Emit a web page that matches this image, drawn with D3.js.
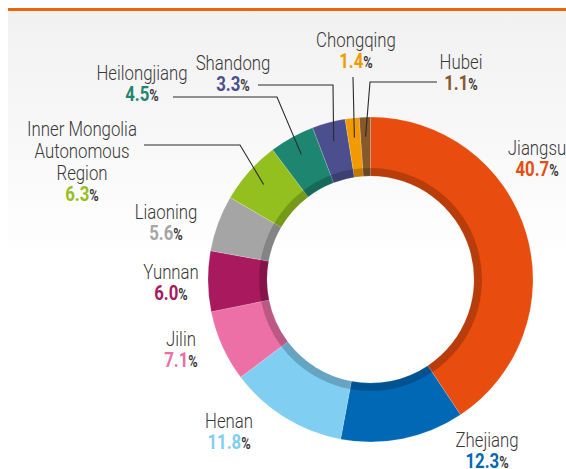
<!DOCTYPE html>
<html>
<head>
<meta charset="utf-8">
<script src="https://cdn.jsdelivr.net/npm/d3@7"></script>
<style>
  html, body { margin: 0; padding: 0; background: #ffffff; }
  svg { display: block; }
  text { font-family: "Roboto", "Liberation Sans", sans-serif; }
</style>
</head>
<body>
<svg id="chart" width="566" height="469"></svg>
<script>
// ---- data ----
const regions = ["Jiangsu", "Zhejiang", "Henan", "Jilin", "Yunnan", "Liaoning",
  "Inner Mongolia Autonomous Region", "Heilongjiang", "Shandong", "Chongqing", "Hubei"];
const shares = [40.7, 12.3, 11.8, 7.1, 6.0, 5.6, 6.3, 4.5, 3.3, 1.4, 1.1];
const labelLines = [["Jiangsu"], ["Zhejiang"], ["Henan"], ["Jilin"], ["Yunnan"], ["Liaoning"],
  ["Inner Mongolia", "Autonomous", "Region"], ["Heilongjiang"], ["Shandong"], ["Chongqing"], ["Hubei"]];
const palette = ["#e84c0e", "#0068b4", "#80cff3", "#ec6fa6", "#a8195e", "#a5a5a5",
  "#93c01f", "#1d8570", "#4b4f8e", "#f39a00", "#87582a"];

// ---- layout (label anchor positions: x centre, baseline of first line) ----
const layout = {
  "Jiangsu": {x: 537, y: 155},
  "Zhejiang": {x: 487, y: 447},
  "Henan": {x: 229, y: 428},
  "Jilin": {x: 181, y: 346},
  "Yunnan": {x: 171, y: 279},
  "Liaoning": {x: 166, y: 219},
  "Inner Mongolia Autonomous Region": {x: 82, y: 136},
  "Heilongjiang": {x: 142, y: 80},
  "Shandong": {x: 233, y: 70},
  "Chongqing": {x: 356, y: 47},
  "Hubei": {x: 461, y: 69}
};
// leader lines: start point and elbow, end on the slice
const leaders = {
  "Inner Mongolia Autonomous Region": [[144, 145], [240, 145]],
  "Heilongjiang": [[173, 97], [277, 97]],
  "Shandong": [[258, 85], [333, 85]],
  "Chongqing": [[353, 77]],
  "Hubei": [[437, 82], [370, 82]]
};

const W = 566, H = 469;
const cx = 370.5, cy = 279.5;
const rOuter = 162.5, rInner = 103.5, rBand = 111.5;
const squeeze = 0.8;

const svg = d3.select("#chart");

// background
const defs = svg.append("defs");
const grad = defs.append("linearGradient").attr("id", "bg").attr("x1", 0).attr("y1", 0).attr("x2", 0).attr("y2", 1);
grad.append("stop").attr("offset", "0%").attr("stop-color", "#f1f1f1");
grad.append("stop").attr("offset", "55%").attr("stop-color", "#ffffff");
grad.append("stop").attr("offset", "100%").attr("stop-color", "#ffffff");
svg.append("rect").attr("x", 8).attr("y", 11).attr("width", W - 8).attr("height", H - 11).attr("fill", "url(#bg)");
svg.append("rect").attr("x", 8).attr("y", 8).attr("width", W - 8).attr("height", 3).attr("fill", "#ec6608");

const data = regions.map((r, i) => ({region: r, value: shares[i], color: palette[i], lines: labelLines[i]}));

const pie = d3.pie().value(d => d.value).sort(null).startAngle(0).endAngle(2 * Math.PI);
const arcs = pie(data);

const arcMain = d3.arc().innerRadius(rInner).outerRadius(rOuter);
const arcBand = d3.arc().innerRadius(rInner).outerRadius(rBand);

const g = svg.append("g").attr("transform", `translate(${cx},${cy})`);
g.selectAll("path.slice").data(arcs).join("path")
  .attr("class", "slice")
  .attr("d", arcMain)
  .attr("fill", d => d.data.color)
  .attr("stroke", "rgba(255,255,255,0.35)")
  .attr("stroke-width", 0.5);
g.selectAll("path.band").data(arcs).join("path")
  .attr("class", "band")
  .attr("d", arcBand)
  .attr("fill", "#000")
  .attr("fill-opacity", 0.2);

// leader lines
const leaderR = 143;
arcs.forEach(a => {
  const pts = leaders[a.data.region];
  if (!pts) return;
  const mid = (a.startAngle + a.endAngle) / 2;
  const end = [cx + leaderR * Math.sin(mid), cy - leaderR * Math.cos(mid)];
  const all = pts.concat([end]);
  svg.append("path")
    .attr("d", d3.line()(all))
    .attr("fill", "none")
    .attr("stroke", "#2b2b2b")
    .attr("stroke-width", 1.1);
});

// labels
const lineH = 22;
arcs.forEach(a => {
  const d = a.data;
  const p = layout[d.region];
  d.lines.forEach((ln, i) => {
    svg.append("g")
      .attr("transform", `translate(${p.x},${p.y + i * lineH}) scale(${squeeze},1)`)
      .append("text")
      .attr("text-anchor", "middle")
      .attr("font-size", 21)
      .attr("font-weight", 300)
      .attr("fill", "#3b3838")
      .text(ln);
  });
  const vy = p.y + (d.lines.length - 1) * lineH + 21;
  const v = svg.append("g")
    .attr("transform", `translate(${p.x},${vy}) scale(${squeeze},1)`)
    .append("text")
    .attr("text-anchor", "middle")
    .attr("font-weight", "bold");
  v.append("tspan").attr("font-size", 21).attr("fill", d.color).text(d3.format(".1f")(d.value));
  v.append("tspan").attr("font-size", 16).attr("fill", "#3b3838").text("%");
});
</script>
</body>
</html>
